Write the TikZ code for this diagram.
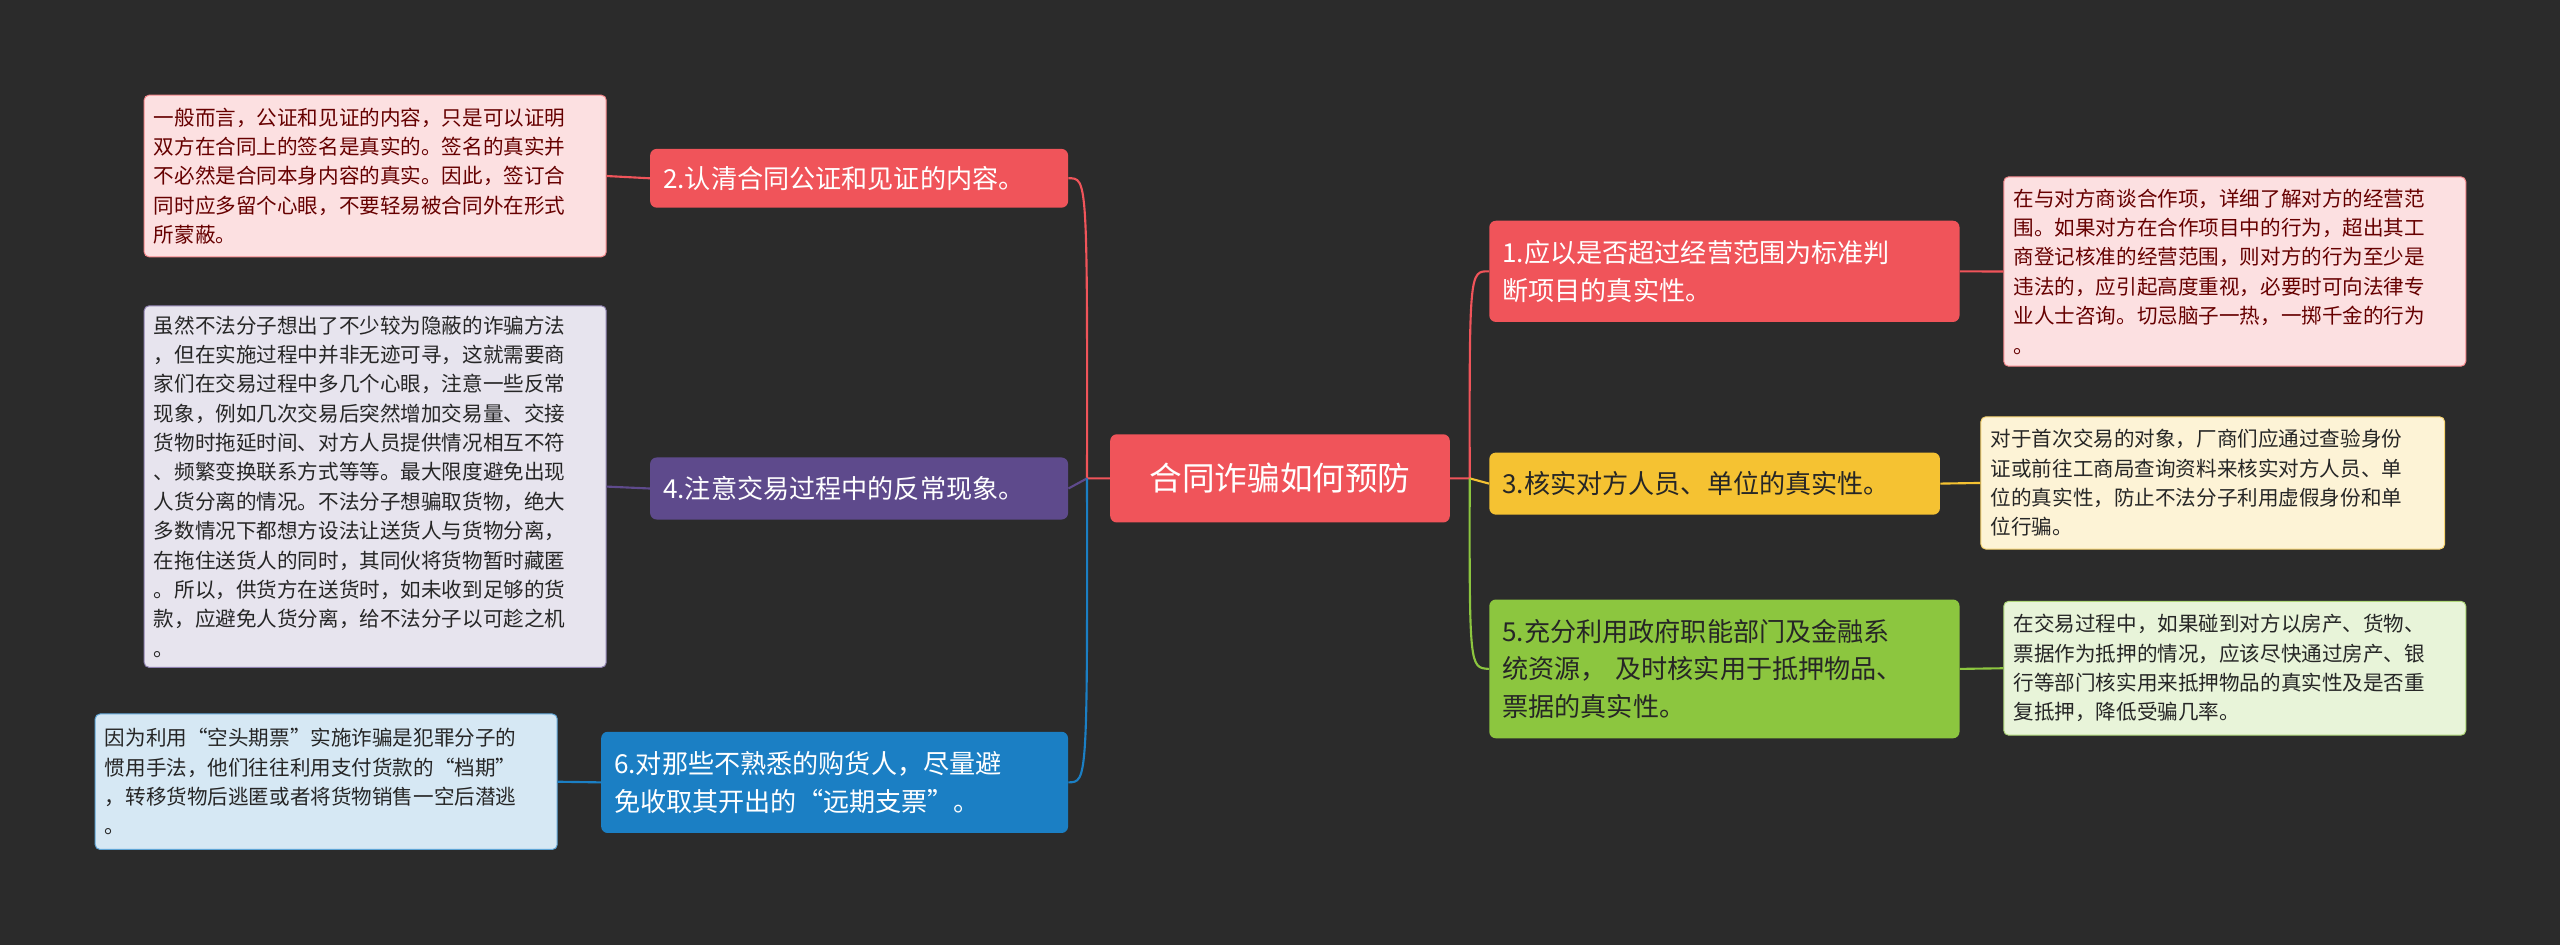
\documentclass[tikz,border=0pt]{standalone}
\usepackage{fontspec}
\setmainfont{Noto Sans CJK SC}
\begin{document}
\begin{tikzpicture}[x=1pt,y=-1pt,
 leaf/.style={draw=#1!70!white,rounded corners=3pt,align=left,inner sep=6pt,font=\fontsize{12.6}{18}\selectfont,anchor=north west,line width=0.6pt},
 br/.style={fill=#1,rounded corners=4pt,align=left,inner sep=8pt,text=white,font=\fontsize{16}{23}\selectfont,anchor=north west},
 ln/.style={draw=#1,line width=1.3pt}]
\definecolor{bg}{HTML}{2B2B2B}
\definecolor{cred}{HTML}{F0545A}
\definecolor{cpur}{HTML}{5E4A8C}
\definecolor{cblu}{HTML}{1B7FC4}
\definecolor{cyel}{HTML}{F5C232}
\definecolor{cgrn}{HTML}{8CC63F}
\fill[bg] (0,0) rectangle (1568,579);
\useasboundingbox (0,0) rectangle (1568,579);
\node[fill=cred,rounded corners=4pt,text=white,font=\fontsize{20}{24}\selectfont,minimum width=208pt,minimum height=54pt] (c) at (784,293) {合同诈骗如何预防};
% branches
\node[br=cred,text width=240pt,minimum height=36pt] (b2) at (398,91) {2.认清合同公证和见证的内容。};
\node[br=cpur,text width=240pt,minimum height=38pt] (b4) at (398,280) {4.注意交易过程中的反常现象。};
\node[br=cblu,text width=270pt,minimum height=62pt] (b6) at (368,448) {6.对那些不熟悉的购货人，尽量避\\免收取其开出的“远期支票”。};
\node[br=cred,text width=272pt,minimum height=62pt] (b1) at (912,135) {1.应以是否超过经营范围为标准判\\断项目的真实性。};
\node[br=cyel,text width=260pt,minimum height=38pt,text=black!85] (b3) at (912,277) {3.核实对方人员、单位的真实性。};
\node[br=cgrn,text width=272pt,minimum height=85pt,text=black!85] (b5) at (912,367) {5.充分利用政府职能部门及金融系\\统资源， 及时核实用于抵押物品、\\票据的真实性。};
% leaves
\node[leaf=cred,fill=cred!18,text=red!40!black,text width=271pt,minimum height=99pt] (l2) at (88,58) {一般而言，公证和见证的内容，只是可以证明\\双方在合同上的签名是真实的。签名的真实并\\不必然是合同本身内容的真实。因此，签订合\\同时应多留个心眼，不要轻易被合同外在形式\\所蒙蔽。};
\node[leaf=cpur,fill=cpur!15,text=black!85,text width=271pt,minimum height=221pt] (l4) at (88,187) {虽然不法分子想出了不少较为隐蔽的诈骗方法\\，但在实施过程中并非无迹可寻，这就需要商\\家们在交易过程中多几个心眼，注意一些反常\\现象，例如几次交易后突然增加交易量、交接\\货物时拖延时间、对方人员提供情况相互不符\\、频繁变换联系方式等等。最大限度避免出现\\人货分离的情况。不法分子想骗取货物，绝大\\多数情况下都想方设法让送货人与货物分离，\\在拖住送货人的同时，其同伙将货物暂时藏匿\\。所以，供货方在送货时，如未收到足够的货\\款，应避免人货分离，给不法分子以可趁之机\\。};
\node[leaf=cblu,fill=cblu!18,text=black!85,text width=271pt,minimum height=83pt] (l6) at (58,437) {因为利用“空头期票”实施诈骗是犯罪分子的\\惯用手法，他们往往利用支付货款的“档期”\\，转移货物后逃匿或者将货物销售一空后潜逃\\。};
\node[leaf=cred,fill=cred!18,text=red!40!black,text width=271pt,minimum height=116pt] (l1) at (1227,108) {在与对方商谈合作项，详细了解对方的经营范\\围。如果对方在合作项目中的行为，超出其工\\商登记核准的经营范围，则对方的行为至少是\\违法的，应引起高度重视，必要时可向法律专\\业人士咨询。切忌脑子一热，一掷千金的行为\\。};
\node[leaf=cyel,fill=cyel!20,text=black!85,text width=272pt,minimum height=81pt] (l3) at (1213,255) {对于首次交易的对象，厂商们应通过查验身份\\证或前往工商局查询资料来核实对方人员、单\\位的真实性，防止不法分子利用虚假身份和单\\位行骗。};
\node[leaf=cgrn,fill=cgrn!20,text=black!85,text width=271pt,minimum height=82pt] (l5) at (1227,368) {在交易过程中，如果碰到对方以房产、货物、\\票据作为抵押的情况，应该尽快通过房产、银\\行等部门核实用来抵押物品的真实性及是否重\\复抵押，降低受骗几率。};
% connectors center
\draw[ln=cred] (c.west) -- ++(-14,0) coordinate (j) .. controls (666,109) and (666,109) .. (b2.east);
\draw[ln=cpur] (j) -- (b4.east);
\draw[ln=cblu] (j) .. controls (666,479) and (666,479) .. (b6.east);
\draw[ln=cred] (c.east) -- ++(12,0) coordinate (k) .. controls (900,166) and (900,166) .. (b1.west);
\draw[ln=cyel] (k) -- (b3.west);
\draw[ln=cgrn] (k) .. controls (900,409) and (900,409) .. (b5.west);
% leaves
\draw[ln=cred] (b2.west) -- (l2.east);
\draw[ln=cpur] (b4.west) -- (l4.east);
\draw[ln=cblu] (b6.west) -- (l6.east);
\draw[ln=cred] (b1.east) -- (l1.west);
\draw[ln=cyel] (b3.east) -- (l3.west);
\draw[ln=cgrn] (b5.east) -- (l5.west);
\end{tikzpicture}
\end{document}
